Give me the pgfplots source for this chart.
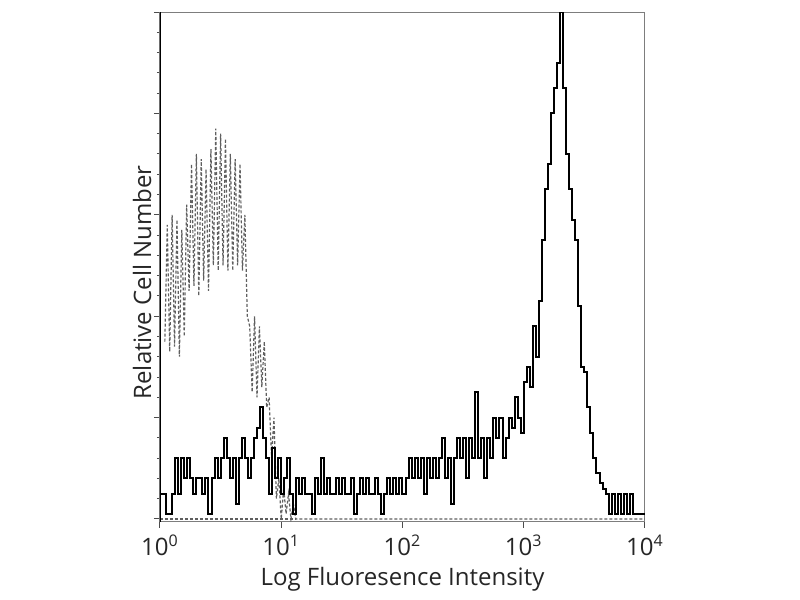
\documentclass[border=0pt]{standalone}
\usepackage{pgfplots}
\pgfplotsset{compat=1.18}
\usepackage{fontspec}
\setmainfont{Open Sans}
\definecolor{isogray}{RGB}{95,95,95}
\definecolor{framegray}{RGB}{125,125,125}
\begin{document}
\begin{tikzpicture}
\useasboundingbox (-80pt,-39pt) rectangle (320pt,261pt);
\begin{axis}[
  at={(0,0)}, anchor=south west,
  scale only axis, width=242.5pt, height=255pt,
  xmin=0, xmax=4, ymin=-0.6, ymax=100,
  xtick={0,1,2,3,4},
  xticklabels={10\textsuperscript{0},10\textsuperscript{1},10\textsuperscript{2},10\textsuperscript{3},10\textsuperscript{4}},
  ytick={0,20,40,60,80,100}, yticklabels={},
  minor y tick num=4,
  xtick pos=lower, ytick pos=left,
  tick align=outside, major tick length=3pt, minor tick length=1.5pt,
  tick style={black!70, line width=0.5pt},
  axis line style={framegray, line width=0.5pt},
  /pgf/number format/assume math mode=true,
  every tick label/.style={font=\fontsize{12}{14}\selectfont, text=black!85},
  xticklabel style={yshift=0pt},
  xlabel={Log Fluoresence Intensity},
  ylabel={Relative Cell Number},
  label style={font=\fontsize{12}{14}\selectfont, text=black!85},
  xlabel style={at={(axis description cs:0.5,-0.112)}, anchor=center},
  ylabel style={at={(axis description cs:-0.037,0.47)}, anchor=center},
]
% isotype control (dashed)
\addplot[isogray, line width=0.6pt, dash pattern=on 1.5pt off 1pt] coordinates {
(0.04,35) (0.06,58) (0.08,33) (0.10,60) (0.12,34) (0.14,59)
(0.16,32) (0.18,57) (0.20,36) (0.22,62) (0.24,45) (0.26,70) (0.28,46) (0.30,72)
(0.32,44) (0.34,71) (0.36,47) (0.38,69) (0.40,45) (0.42,73) (0.44,50) (0.46,77)
(0.48,49) (0.50,76) (0.52,50) (0.54,75) (0.56,49) (0.58,72) (0.60,49) (0.62,71)
(0.64,50) (0.66,70) (0.68,49) (0.70,60) (0.72,40) (0.74,38) (0.76,25) (0.78,40)
(0.80,24) (0.82,38) (0.84,26) (0.86,35) (0.88,22) (0.90,24) (0.92,12) (0.94,20)
(0.96,4) (0.98,8) (1.00,0) (1.02,6) (1.04,1) (1.06,5) (1.08,0) (1.10,3)
(1.12,0) (4.00,0)
};
\addplot[isogray, line width=0.6pt, dash pattern=on 1.5pt off 1pt] coordinates {(0,0) (1.12,0)};
% stained sample (solid)
\addplot[black, line width=1pt, const plot] coordinates {
(0.000,5) (0.025,5) (0.050,1) (0.075,1) (0.100,5) (0.125,12) (0.150,5) (0.175,12)
(0.200,8) (0.225,12) (0.250,8) (0.275,5) (0.300,8) (0.325,8) (0.350,5) (0.375,8)
(0.400,1) (0.425,8) (0.450,12) (0.475,8) (0.500,12) (0.525,16) (0.550,12) (0.575,8)
(0.600,12) (0.625,3) (0.650,12) (0.675,16) (0.700,12) (0.725,8) (0.750,12) (0.775,16)
(0.800,18) (0.825,22) (0.850,16) (0.875,12) (0.900,5) (0.925,14) (0.950,8) (0.975,12)
(1.000,5) (1.025,8) (1.050,12) (1.075,5) (1.100,1) (1.125,8) (1.150,5) (1.175,8)
(1.200,5) (1.225,5) (1.250,1) (1.275,8) (1.300,5) (1.325,12) (1.350,5) (1.375,8)
(1.400,5) (1.425,5) (1.450,8) (1.475,5) (1.500,8) (1.525,5) (1.550,5) (1.575,8)
(1.600,1) (1.625,5) (1.650,8) (1.675,5) (1.700,8) (1.725,5) (1.750,5) (1.775,8)
(1.800,5) (1.825,1) (1.850,5) (1.875,8) (1.900,5) (1.925,8) (1.950,5) (1.975,8)
(2.000,5) (2.025,8) (2.050,12) (2.075,8) (2.100,12) (2.125,8) (2.150,12) (2.175,5)
(2.200,12) (2.225,8) (2.250,12) (2.275,8) (2.300,12) (2.325,16) (2.350,8) (2.375,12)
(2.400,3) (2.425,12) (2.450,16) (2.475,12) (2.500,16) (2.525,8) (2.550,16) (2.575,12)
(2.600,25) (2.625,12) (2.650,16) (2.675,8) (2.700,16) (2.725,12) (2.750,20) (2.775,16)
(2.800,20) (2.825,12) (2.850,16) (2.875,20) (2.900,18) (2.925,24) (2.950,20) (2.975,17)
(3.000,27) (3.025,30) (3.050,26) (3.075,38) (3.100,32) (3.125,43) (3.150,55) (3.175,65)
(3.200,70) (3.225,80) (3.250,85) (3.275,90) (3.300,100) (3.325,85) (3.350,72) (3.375,65)
(3.400,59) (3.425,55) (3.450,42) (3.475,30) (3.500,29) (3.525,22) (3.550,17) (3.575,12)
(3.600,9) (3.625,7) (3.650,6) (3.675,5) (3.700,1) (3.725,5) (3.750,1) (3.775,5)
(3.800,1) (3.825,5) (3.850,1) (3.875,5) (3.900,1) (3.925,1) (3.950,1) (3.975,1)
(4.000,1)
};
\draw[black, line width=1.2pt] (rel axis cs:0,0) -- (rel axis cs:0,1);
\end{axis}
\end{tikzpicture}
\end{document}
